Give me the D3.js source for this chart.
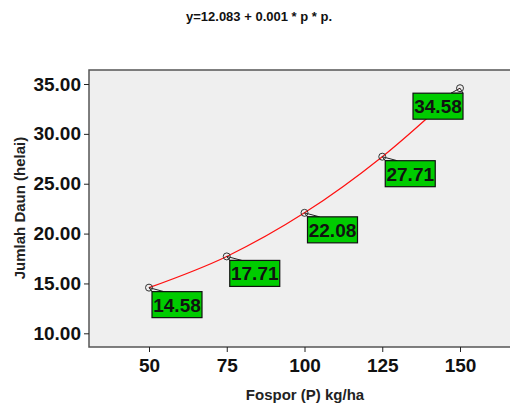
<!DOCTYPE html>
<html>
<head>
<meta charset="utf-8">
<script src="https://cdn.jsdelivr.net/npm/d3@7"></script>
<style>
  body { margin: 0; background: #fff; }
  text { font-family: 'Liberation Sans', Arial, sans-serif; font-weight: bold; }
</style>
</head>
<body>
<div id="chart"></div>
<script>
// data
const fosfor = [50, 75, 100, 125, 150]
const daun = [14.58, 17.71, 22.08, 27.71, 34.58]
const xTicks = [50, 75, 100, 125, 150]
const yTicks = [10, 15, 20, 25, 30, 35]
const title = 'y=12.083 + 0.001 * p * p.'

const width = 510
const height = 405
const box = { left: 89, top: 70, right: 522, bottom: 347 }

const svg = d3.select('#chart').append('svg')
  .attr('width', width)
  .attr('height', height)

const x = d3.scaleLinear().domain([50, 150]).range([149, 460])
const y = d3.scaleLinear().domain([10, 35]).range([333.3, 84])

// plot area
svg.append('rect')
  .attr('x', box.left)
  .attr('y', box.top)
  .attr('width', box.right - box.left)
  .attr('height', box.bottom - box.top)
  .attr('fill', '#efefef')
  .attr('stroke', '#555')
  .attr('stroke-width', 1.5)

// axes
let yAxis = svg.append('g')
  .attr('transform', 'translate(' + box.left + ',0)')
  .call(d3.axisLeft(y).tickValues(yTicks).tickSize(5).tickPadding(3).tickFormat(d3.format('.2f')))
yAxis.select('.domain').remove()
yAxis.selectAll('line').attr('stroke', '#222')
yAxis.selectAll('text').attr('font-size', 19).attr('fill', '#111').attr('font-family', null)

let xAxis = svg.append('g')
  .attr('transform', 'translate(0,' + box.bottom + ')')
  .call(d3.axisBottom(x).tickValues(xTicks).tickSize(5).tickPadding(7))
xAxis.select('.domain').remove()
xAxis.selectAll('line').attr('stroke', '#222')
xAxis.selectAll('text').attr('font-size', 19).attr('fill', '#111').attr('font-family', null)

// titles
svg.append('text')
  .attr('x', 259).attr('y', 21)
  .attr('text-anchor', 'middle')
  .attr('font-size', 13)
  .attr('fill', '#111')
  .text(title)

svg.append('text')
  .attr('x', 305).attr('y', 400)
  .attr('text-anchor', 'middle')
  .attr('font-size', 15)
  .attr('fill', '#222')
  .text('Fospor (P) kg/ha')

svg.append('text')
  .attr('transform', 'translate(25,208) rotate(-90)')
  .attr('text-anchor', 'middle')
  .attr('font-size', 15)
  .attr('fill', '#222')
  .text('Jumlah Daun (helai)')

// fit line through the points
let points = fosfor.map((p, i) => ({ p: p, v: daun[i] }))

let line = d3.line()
  .x(d => x(d.p))
  .y(d => y(d.v))
  .curve(d3.curveMonotoneX)

svg.append('path')
  .datum(points)
  .attr('d', line)
  .attr('fill', 'none')
  .attr('stroke', '#ff1010')
  .attr('stroke-width', 1.2)

// labels with callouts
let labelW = 50
let labelH = 26
let labels = svg.selectAll('.label')
  .data(points)
  .enter()
  .append('g')
  .attr('class', 'label')

labels.each(function (d) {
  let g = d3.select(this)
  let px = x(d.p)
  let py = y(d.v)
  let bx = px + 3
  let by = py + 4
  let cx0 = bx
  let cx1 = bx + 12
  if (bx + labelW > width - 4) {
    bx = px + 3 - labelW
    by = py + 5
    cx0 = bx + labelW - 12
    cx1 = bx + labelW
  }
  g.append('path')
    .attr('d', 'M' + px + ',' + py + 'L' + cx0 + ',' + by + 'L' + cx1 + ',' + by + 'Z')
    .attr('fill', '#efefef')
    .attr('stroke', '#222')
    .attr('stroke-width', 1)
  g.append('rect')
    .attr('x', bx).attr('y', by)
    .attr('width', labelW).attr('height', labelH)
    .attr('fill', '#00cc00')
    .attr('stroke', '#111')
    .attr('stroke-width', 1.2)
  g.append('text')
    .attr('x', bx + labelW / 2)
    .attr('y', by + labelH / 2 + 7)
    .attr('text-anchor', 'middle')
    .attr('font-size', 19)
    .attr('fill', '#111')
    .text(d3.format('.2f')(d.v))
})

// markers
svg.selectAll('.marker')
  .data(points)
  .enter()
  .append('circle')
  .attr('class', 'marker')
  .attr('cx', d => x(d.p))
  .attr('cy', d => y(d.v))
  .attr('r', 3.5)
  .attr('fill', 'none')
  .attr('stroke', '#333')
  .attr('stroke-width', 1)
</script>
</body>
</html>
